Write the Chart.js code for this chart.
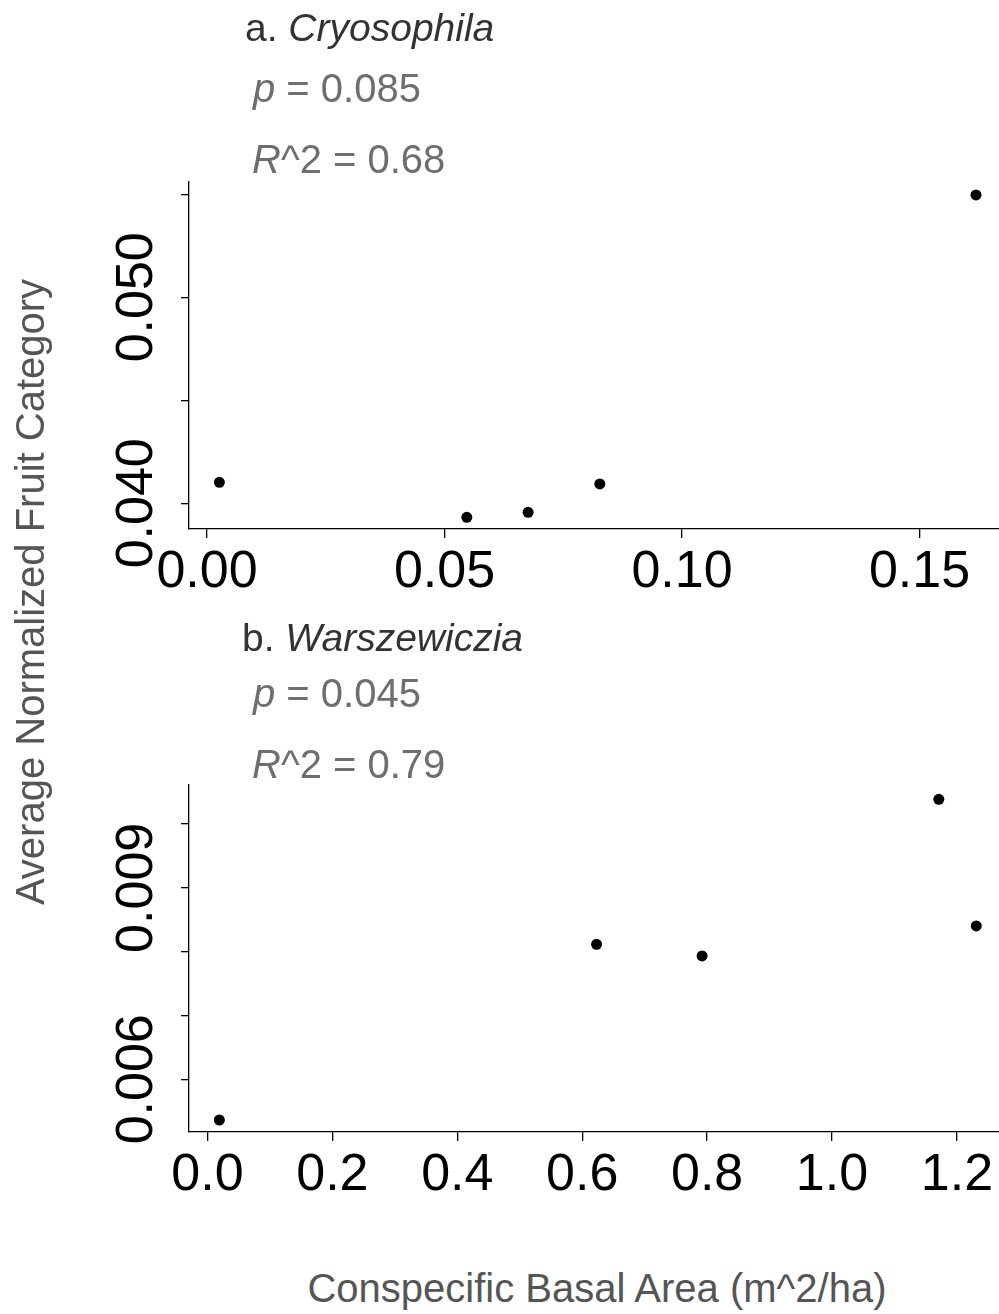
<!DOCTYPE html>
<html>
<head>
<meta charset="utf-8">
<script src="https://cdn.jsdelivr.net/npm/chart.js@4/dist/chart.umd.min.js"></script>
<style>
  html, body { margin: 0; padding: 0; background: #fff; }
  #wrap { position: relative; width: 999px; height: 1314px; overflow: hidden; background: #fff;
          font-family: "Liberation Sans", Arial, sans-serif; }
  #wrap canvas { position: absolute; left: 0; }
  #c1 { top: 0; }
  #c2 { top: 603px; }
  .axis-title { position: absolute; font-size: 40px; line-height: 40px; color: #555;
                white-space: nowrap; text-align: center; }
  #ylab { width: 700px; left: -320px; top: 572px; transform: rotate(-90deg); }
  #xlab { width: 800px; left: 197px; top: 1268px; }
</style>
</head>
<body>
<div id="wrap">
  <canvas id="c1" width="999" height="603"></canvas>
  <canvas id="c2" width="999" height="603"></canvas>
  <div class="axis-title" id="ylab">Average Normalized Fruit Category</div>
  <div class="axis-title" id="xlab">Conspecific Basal Area (m^2/ha)</div>
</div>
<script>
// Panel a: Cryosophila
const cryoBasalArea     = [0.0026, 0.0547, 0.0676, 0.0827, 0.1619];
const cryoFruitCategory = [0.04102, 0.03932, 0.03956, 0.04094, 0.05497];
const cryoXTicks  = [0, 0.05, 0.10, 0.15];
const cryoXLabels = ['0.00', '0.05', '0.10', '0.15'];
const cryoYTicks  = [0.040, 0.045, 0.050, 0.055];
const cryoYLabels = ['0.040', '', '0.050', ''];
const cryoXRange  = [-0.00379, 0.16674];
const cryoYRange  = [0.038752, 0.055597];
const cryoStats   = { p: '0.085', r2: '0.68' };

// Panel b: Warszewiczia
const warsBasalArea     = [0.019, 0.623, 0.792, 1.171, 1.231];
const warsFruitCategory = [0.005362, 0.008115, 0.007932, 0.010387, 0.008402];
const warsXTicks  = [0, 0.2, 0.4, 0.6, 0.8, 1.0, 1.2];
const warsXLabels = ['0.0', '0.2', '0.4', '0.6', '0.8', '1.0', '1.2'];
const warsYTicks  = [0.006, 0.007, 0.008, 0.009, 0.010];
const warsYLabels = ['0.006', '', '', '0.009', ''];
const warsXRange  = [-0.0296, 1.2674];
const warsYRange  = [0.005174, 0.010611];
const warsStats   = { p: '0.045', r2: '0.79' };

const FONT = '"Liberation Sans", Arial, sans-serif';

// Writes a run of text pieces, switching between upright and italic
function drawRuns(ctx, runs, x, y, size, color) {
  ctx.fillStyle = color;
  ctx.textAlign = 'left';
  ctx.textBaseline = 'alphabetic';
  runs.forEach(([txt, italic]) => {
    ctx.font = (italic ? 'italic ' : '') + size + 'px ' + FONT;
    ctx.fillText(txt, x, y);
    x += ctx.measureText(txt).width;
  });
}

function panelTextPlugin(p) {
  return {
    id: 'panelText',
    afterDraw(chart) {
      const ctx = chart.ctx;
      const xs = chart.scales.x, ys = chart.scales.y;
      ctx.save();
      // tick labels
      ctx.fillStyle = '#000';
      ctx.font = '52px ' + FONT;
      ctx.textAlign = 'center';
      ctx.textBaseline = 'alphabetic';
      p.xTicks.forEach((v, i) => {
        if (p.xLabels[i]) ctx.fillText(p.xLabels[i], xs.getPixelForValue(v), 587);
      });
      p.yTicks.forEach((v, i) => {
        if (!p.yLabels[i]) return;
        ctx.save();
        ctx.translate(151.5, ys.getPixelForValue(v));
        ctx.rotate(-Math.PI / 2);
        ctx.fillText(p.yLabels[i], 0, 0);
        ctx.restore();
      });
      // panel heading and fit statistics
      drawRuns(ctx, [[p.letter + ' ', false], [p.genus, true]], p.titleX, p.titleY, 39, '#333');
      drawRuns(ctx, [['p', true], [' = ' + p.stats.p, false]], 253, p.pY, 40, '#6e6e6e');
      drawRuns(ctx, [['R', true], ['^2 = ' + p.stats.r2, false]], 252, p.rY, 40, '#6e6e6e');
      ctx.restore();
    }
  };
}

function axisOpts(range, ticks, isX) {
  return {
    type: 'linear',
    min: range[0],
    max: range[1],
    afterBuildTicks(s) { s.ticks = ticks.map(v => ({ value: v })); },
    afterFit(s) { if (isX) s.height = 603 - 529; else s.width = 189; },
    ticks: { display: false },
    grid: { drawOnChartArea: false, drawTicks: true, tickLength: isX ? 9 : 8,
            color: '#000', lineWidth: 1.3 },
    border: { display: true, color: '#000', width: 1.3 }
  };
}

function makePanel(id, xs, ys, p) {
  return new Chart(document.getElementById(id), {
    type: 'scatter',
    data: {
      datasets: [{
        data: xs.map((x, i) => ({ x: x, y: ys[i] })),
        backgroundColor: '#000',
        borderColor: '#000',
        borderWidth: 0,
        pointRadius: 5.5,
        pointHoverRadius: 5.5,
        clip: false
      }]
    },
    options: {
      responsive: false,
      animation: false,
      devicePixelRatio: 1,
      events: [],
      layout: { autoPadding: false, padding: { top: 182, left: 0, right: 0, bottom: 0 } },
      plugins: { legend: { display: false }, tooltip: { enabled: false } },
      scales: {
        x: axisOpts(p.xRange, p.xTicks, true),
        y: axisOpts(p.yRange, p.yTicks, false)
      }
    },
    plugins: [panelTextPlugin(p)]
  });
}

makePanel('c1', cryoBasalArea, cryoFruitCategory, {
  letter: 'a.', genus: 'Cryosophila', stats: cryoStats,
  titleX: 245, titleY: 41, pY: 102, rY: 173,
  xTicks: cryoXTicks, xLabels: cryoXLabels, yTicks: cryoYTicks, yLabels: cryoYLabels,
  xRange: cryoXRange, yRange: cryoYRange
});

makePanel('c2', warsBasalArea, warsFruitCategory, {
  letter: 'b.', genus: 'Warszewiczia', stats: warsStats,
  titleX: 242, titleY: 48, pY: 104, rY: 175,
  xTicks: warsXTicks, xLabels: warsXLabels, yTicks: warsYTicks, yLabels: warsYLabels,
  xRange: warsXRange, yRange: warsYRange
});
</script>
</body>
</html>
